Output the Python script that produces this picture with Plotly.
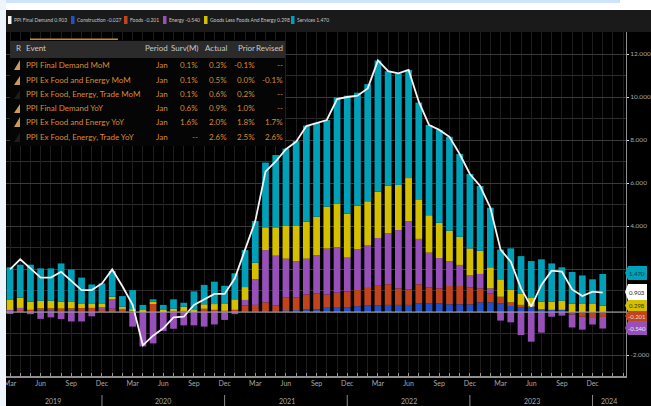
import plotly.graph_objects as go

W, H = 651, 406
L, R, T, B = 6, 626, 32, 376

# ---------- data ----------
months = ["Mar","Apr","May","Jun","Jul","Aug","Sep","Oct","Nov","Dec","Jan","Feb"]
n_months = 59
month_index = list(range(n_months))
quarter_ticks = [i for i in month_index if i % 3 == 0 and i < 58]
quarter_labels = [months[i % 12] for i in quarter_ticks]

construction_pos = [.02,.03,.02,.07,.07,.07,.07,.05,.05,.05,.05,.05,.06,.03,.02,.02,.03,.03,.03,.03,.02,.03,.03,
    .05,.05,.05,.05,.07,.08,.12,.12,.2,.2,.22,.27,.3,.3,.33,.33,.33,.4,.4,.4,.36,.36,.36,.45,.45,.4,.28,.25,.25,.12,.1,.1,
    0,0,0,0]
construction_neg = [0]*55 + [-.02,-.02,-.02,-.027]
foods_pos = [.03,.1,.08,.1,.1,.09,.1,.13,.14,.08,.1,.05,0,0,.38,.02,.02,.02,0,.12,.08,.03,.07,
    .25,.28,.4,.25,.6,.6,.7,.75,.61,.7,.74,.75,.82,.92,.96,.77,.72,.89,.75,.7,.85,.85,.79,.65,.42,.31,.17,.08,0,0,0,0,
    0,0,0,0]
foods_neg = [0]*55 + [-.1,-.2,-.26,-.201]
energy_pos = [.05,.06,0,0,0,0,0,0,0,.1,.44,.05,0,0,0,0,0,0,0,0,0,0,0,
    .26,1.19,2.43,2.32,1.81,1.69,1.66,1.78,2.14,2.12,1.57,1.89,1.97,2.22,2.37,2.71,3.17,2.11,1.61,1.41,1.16,.98,.55,.67,.23,
    0,0,0,0,0,0,0,0,0,0,0]
energy_neg = [-.05,0,-.1,-.32,-.25,-.33,-.44,-.44,-.2,0,0,0,-.68,-1.6,-1.46,-.88,-.78,-.62,-.62,-.68,-.58,-.37,-.1,
    0,0,0,0,0,0,0,0,0,0,0,0,0,0,0,0,0,0,0,0,0,0,0,0,0,
    -.4,-.48,-1.07,-1.38,-.96,-.22,-.17,-.6,-.6,-.3,-.54]
goods = [.46,.48,.38,.36,.36,.32,.3,.22,.21,.17,.12,.1,.06,.06,.08,.08,.1,.2,.06,.21,.27,.34,.49,
    .6,.77,1.06,1.32,1.52,1.63,1.72,1.78,1.95,2.03,2.04,2.04,2.06,2.16,2.22,2.1,2.01,1.84,1.74,1.64,1.41,1.31,1.26,1.08,.98,.81,.6,.51,.43,.36,.38,.43,
    .38,.4,.4,.298]
services = [1.52,1.53,1.72,1.5,1.5,1.78,1.51,1.2,.88,.93,1.2,.49,.9,.24,.11,.21,.44,.18,.87,.9,1.04,.82,1.21,
    1.72,1.94,3.01,3.36,3.6,3.95,4.47,4.37,4.03,4.93,5.49,5.25,5.45,6.1,5.32,5.19,5.03,4.5,4.2,4.32,4.37,3.85,3.46,3.01,2.77,1.38,1.91,1.76,1.69,1.97,1.78,1.55,
    1.48,1.3,1.12,1.47]
final_demand = [1.98,2.45,2.03,1.6,1.6,1.87,1.45,1.02,1.02,1.33,1.98,1.2,.33,-1.55,-1.1,-.76,-.25,-.22,.33,.6,.84,.84,1.57,
    2.9,4.23,6.53,7.0,7.57,7.92,8.65,8.78,8.93,9.9,10.0,10.06,10.4,11.7,11.2,11.1,11.26,9.78,8.7,8.47,8.15,7.35,6.42,5.86,4.85,2.9,2.34,1.1,.25,1.26,1.92,1.88,
    1.05,.74,.95,.903]

axis_vals = [12, 10, 8, 6, 4, 2, 0, -2]
axis_labels = ["12.000", "10.000", "8.000", "6.000", "4.000", "", "", "-2.000"]

year_labels = ["2019", "2020", "2021", "2022", "2023", "2024"]
year_centres = [4.2, 14.97, 27.1, 39, 51.1, 58.6]
year_breaks = [9, 21, 33, 45, 57]

legend_names = ["PPI Final Demand 0.903", "Construction -0.027", "Foods -0.201", "Energy -0.540",
                "Goods Less Foods And Energy 0.298", "Services 1.470"]
WHITE, BLUE, RED, PURPLE, YELLOW, TEAL = "#f4f4f4", "#2350c4", "#c2441c", "#9650b8", "#d4c000", "#00a0b8"
legend_colors = [WHITE, BLUE, RED, PURPLE, YELLOW, TEAL]

tag_labels = ["1.470", "0.903", "0.298", "-0.201", "-0.540"]

table_head = ["R", "Event", "Period", "Surv(M)", "Actual", "Prior", "Revised"]
events = ["PPI Final Demand MoM", "PPI Ex Food and Energy MoM", "PPI Ex Food, Energy, Trade MoM",
          "PPI Final Demand YoY", "PPI Ex Food and Energy YoY", "PPI Ex Food, Energy, Trade YoY"]
period = ["Jan"] * 6
surv = ["0.1%", "0.1%", "0.1%", "0.6%", "1.6%", "--"]
actual = ["0.3%", "0.5%", "0.6%", "0.9%", "2.0%", "2.6%"]
prior = ["-0.1%", "0.0%", "0.2%", "1.0%", "1.8%", "2.5%"]
revised = ["--", "-0.1%", "--", "--", "1.7%", "2.6%"]

# ---------- helpers ----------
def px(x): return (x - L) / (R - L)
def py(y): return (B - y) / (B - T)

FONT = "Lato, Roboto, sans-serif"
shapes, annos = [], []

def rect(x0, y0, x1, y1, color, layer="above"):
    shapes.append(dict(type="rect", xref="paper", yref="paper", x0=px(x0), x1=px(x1), y0=py(y0), y1=py(y1),
                       fillcolor=color, line_width=0, layer=layer))

def text(x, y, s, color, size, anchor="left"):
    annos.append(dict(xref="paper", yref="paper", x=px(x), y=py(y), text=s, showarrow=False, xanchor=anchor,
                      yanchor="middle", font=dict(family=FONT, size=size, color=color), borderpad=0, align=anchor))

def poly(points, color):
    d = "M " + " L ".join(f"{px(a):.5f} {py(b):.5f}" for a, b in points) + " Z"
    shapes.append(dict(type="path", xref="paper", yref="paper", path=d, fillcolor=color, line_width=0, layer="above"))

# page frame
rect(0, 0, W, 10, "#ffffff")
rect(0, 0, 620, 3, "#cfe3fb")
rect(0, 0, L, H, "#eef5fd")
rect(L, 10, W, T, "#1a1a1a", "below")

# legend band
legend_box_x = [8, 71, 124, 163, 204, 291]
legend_text_x = [13, 76, 129, 168, 209, 296]
for bx, tx, nm, col in zip(legend_box_x, legend_text_x, legend_names, legend_colors):
    rect(bx, 16, bx + 3.5, 24, col)
    text(tx, 20, nm, "#c4c4c4", 5)

# table
rect(10, 40, 285, 146, "#050505")
rect(10, 41, 285, 58, "#2b2b2b")
rect(30, 38.5, 118, 40, "#c98a2c")
head_x = [15, 25, 169, 199, 228, 256, 284]
for i, (hx, hd) in enumerate(zip(head_x, table_head)):
    text(hx, 48, hd, "#c8c8c8", 8, "left" if i < 2 else "right")
row_y = [65, 80, 94, 108, 122, 137]
ORANGE = "#d98a30"
icon_h = [5, 4, 0, 4, 5, 0]
for ry, ev, pe, su, ac, pr, re, h in zip(row_y, events, period, surv, actual, prior, revised, icon_h):
    text(25, ry, ev, ORANGE, 8)
    for hx, val in zip(head_x[2:], [pe, su, ac, pr, re]):
        text(hx, ry, val, ORANGE, 8, "right")
    if h:
        poly([(14, ry + 5), (20, ry + 5), (20, ry - h)], "#c99a5a")
    else:
        poly([(14, ry + 5), (20, ry + 5), (20, ry - 4)], "#1c1c1c")

# year separators and labels
for b in year_breaks:
    shapes.append(dict(type="line", xref="x", yref="paper", x0=b, x1=b, y0=py(395), y1=py(406),
                       line=dict(color="#8a8a8a", width=1), layer="above"))
for c, lab in zip(year_centres, year_labels):
    annos.append(dict(xref="x", yref="paper", x=c, y=py(401), text=lab, showarrow=False, yanchor="middle",
                      font=dict(family=FONT, size=7, color="#a8a8a8")))

# zero line
shapes.append(dict(type="line", xref="paper", yref="y", x0=0, x1=1, y0=0, y1=0,
                   line=dict(color="#a8a8a8", width=1), layer="above"))

# value tags
tag_geom = [(266, 280, TEAL, "#063c44"), (284, 300, "#ffffff", "#222222"), (300, 311, YELLOW, "#3a3400"),
            (311, 321, RED, "#f0d8d0"), (321, 335, PURPLE, "#f0e4f6")]
for (y0, y1, col, tc), lab in zip(tag_geom, tag_labels):
    mid = (y0 + y1) / 2
    poly([(625, mid), (628, y0), (647, y0), (647, y1), (628, y1)], col)
    text(637, mid, lab, tc, 6, "center")

# ---------- figure ----------
fig = go.Figure()
series = [("Construction", construction_pos, BLUE), ("Construction", construction_neg, BLUE),
          ("Foods", foods_pos, RED), ("Foods", foods_neg, RED),
          ("Energy", energy_pos, PURPLE), ("Energy", energy_neg, PURPLE),
          ("Goods Less Foods And Energy", goods, YELLOW), ("Services", services, TEAL)]
for name, vals, col in series:
    fig.add_trace(go.Bar(x=month_index, y=vals, name=name, marker=dict(color=col, line_width=0), width=0.66))
fig.add_trace(go.Scatter(x=month_index, y=final_demand, name="PPI Final Demand", mode="lines",
                         line=dict(color="#f4f4f4", width=1.8)))

xmin = -4 / 10.22
fig.update_layout(
    width=W, height=H, autosize=False, barmode="relative", showlegend=False,
    margin=dict(l=L, r=W - R, t=T, b=H - B, autoexpand=False),
    paper_bgcolor="#000000", plot_bgcolor="#000000",
    shapes=shapes, annotations=annos,
    xaxis=dict(range=[xmin, xmin + (R - L) / 10.22], tickmode="array", tickvals=quarter_ticks, ticktext=quarter_labels,
               ticks="inside", ticklen=3, tickcolor="#999999", showgrid=True, gridcolor="#1e1e1e", gridwidth=1,
               tickfont=dict(family=FONT, size=7, color="#a8a8a8"), showline=True, linecolor="#8f8f8f", linewidth=2,
               zeroline=False, minor=dict(dtick=1, tick0=0, ticks="inside", ticklen=3, tickcolor="#999999",
                                          showgrid=True, gridcolor="#1e1e1e")),
    yaxis=dict(range=[(312 - B) / 21.5, (312 - T) / 21.5], side="right", tickmode="array", tickvals=axis_vals,
               ticktext=axis_labels, ticks="outside", ticklen=2, tickcolor="#dddddd", showgrid=True,
               gridcolor="#3a3a3a", tickfont=dict(family=FONT, size=6.5, color="#a8a8a8"), showline=True,
               linecolor="#8f8f8f", linewidth=1, zeroline=False,
               minor=dict(dtick=1, tick0=0, showgrid=True, gridcolor="#2c2c2c")),
)
fig.write_html("out.html", config={"displayModeBar": False},
               post_script="document.body.style.margin='0';document.body.style.overflow='hidden';")
